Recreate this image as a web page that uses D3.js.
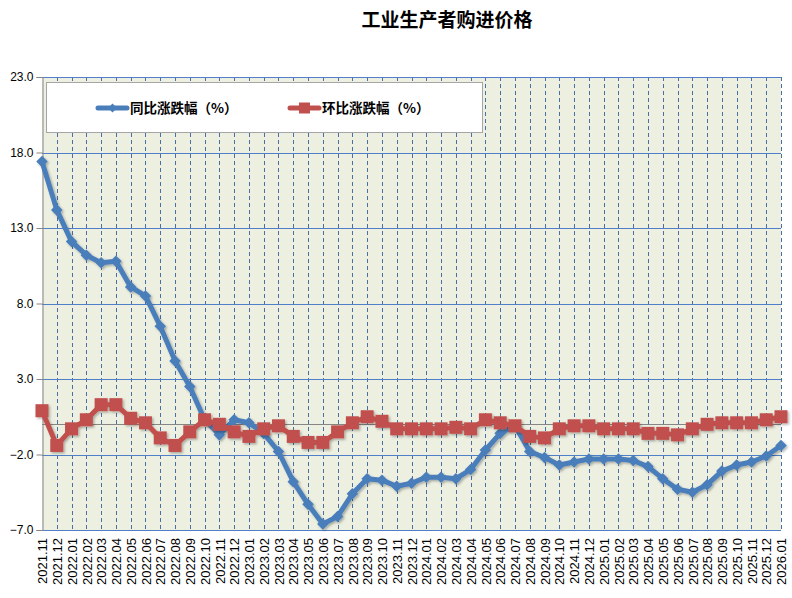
<!DOCTYPE html>
<html>
<head>
<meta charset="UTF-8">
<title>工业生产者购进价格</title>
<style>
  body { margin: 0; background: #fff; }
  svg { display: block; }
  .tick text { font-family: "Liberation Sans", Arial, sans-serif; fill: #000; }
</style>
</head>
<body>
<div id="chart"></div>
<script src="https://cdn.jsdelivr.net/npm/d3@7"></script>
<script>
// 月份
const months = [
  "2021.11","2021.12",
  "2022.01","2022.02","2022.03","2022.04","2022.05","2022.06","2022.07","2022.08","2022.09","2022.10","2022.11","2022.12",
  "2023.01","2023.02","2023.03","2023.04","2023.05","2023.06","2023.07","2023.08","2023.09","2023.10","2023.11","2023.12",
  "2024.01","2024.02","2024.03","2024.04","2024.05","2024.06","2024.07","2024.08","2024.09","2024.10","2024.11","2024.12",
  "2025.01","2025.02","2025.03","2025.04","2025.05","2025.06","2025.07","2025.08","2025.09","2025.10","2025.11","2025.12",
  "2026.01"
];
// 同比涨跌幅（%）
const yoy = [
  17.4, 14.2,
  12.1, 11.2, 10.7, 10.8, 9.1, 8.5, 6.5, 4.2, 2.5, 0.3, -0.7, 0.3,
  0.1, -0.6, -1.8, -3.8, -5.3, -6.6, -6.1, -4.6, -3.6, -3.7, -4.1, -3.9,
  -3.5, -3.5, -3.6, -3.0, -1.7, -0.6, -0.1, -1.8, -2.2, -2.7, -2.5, -2.3,
  -2.3, -2.3, -2.4, -2.8, -3.6, -4.3, -4.5, -4.0, -3.1, -2.7, -2.5, -2.1,
  -1.4
];
// 环比涨跌幅（%）
const mom = [
  0.9, -1.4,
  -0.3, 0.3, 1.3, 1.3, 0.4, 0.1, -0.9, -1.4, -0.5, 0.3, 0.0, -0.5,
  -0.8, -0.3, -0.1, -0.8, -1.2, -1.2, -0.5, 0.1, 0.5, 0.2, -0.3, -0.3,
  -0.3, -0.3, -0.2, -0.3, 0.3, 0.1, -0.1, -0.8, -0.9, -0.3, -0.1, -0.1,
  -0.3, -0.3, -0.3, -0.6, -0.6, -0.7, -0.3, 0.0, 0.1, 0.1, 0.1, 0.3,
  0.5
];
const yTicks = [-7, -2, 3, 8, 13, 18, 23];
const seriesNames = ["同比涨跌幅（%）", "环比涨跌幅（%）"];

const width = 792, height = 598;
const plotL = 42, plotR = 781, plotT = 77, plotB = 530;

const svg = d3.select("#chart").append("svg")
  .attr("width", width)
  .attr("height", height);

// 阴影
const defs = svg.append("defs");
const f = defs.append("filter").attr("id", "shadow")
  .attr("x", "-10%").attr("y", "-10%").attr("width", "120%").attr("height", "120%");
f.append("feDropShadow")
  .attr("dx", 1.5).attr("dy", 1.5).attr("stdDeviation", 1.2)
  .attr("flood-color", "#000").attr("flood-opacity", 0.3);

const x = d3.scalePoint().domain(months).range([plotL, plotR]);
const y = d3.scaleLinear().domain([-7, 23]).range([plotB, plotT]);
const crisp = v => Math.round(v) + 0.5;

// 绘图区背景
svg.append("rect")
  .attr("x", plotL).attr("y", plotT)
  .attr("width", plotR - plotL).attr("height", plotB - plotT)
  .attr("fill", "#edf0e1");

// 竖向虚线
svg.append("g")
  .selectAll("line")
  .data(months.slice(1))
  .join("line")
  .attr("x1", d => crisp(x(d))).attr("x2", d => crisp(x(d)))
  .attr("y1", plotT).attr("y2", plotB)
  .attr("stroke", "#4a6fa5")
  .attr("stroke-width", 1)
  .attr("stroke-dasharray", "4,3");

// 横向网格
svg.append("g")
  .selectAll("line")
  .data(yTicks)
  .join("line")
  .attr("x1", plotL).attr("x2", plotR)
  .attr("y1", d => crisp(y(d))).attr("y2", d => crisp(y(d)))
  .attr("stroke", "#4f7fc8")
  .attr("stroke-width", 1);

// 0 轴线
svg.append("line")
  .attr("x1", plotL).attr("x2", plotR)
  .attr("y1", crisp(y(0))).attr("y2", crisp(y(0)))
  .attr("stroke", "#868686")
  .attr("stroke-width", 1);

// y 轴
const yAxis = svg.append("g")
  .attr("transform", "translate(" + (plotL + 0.5) + ",0)")
  .call(d3.axisLeft(y).tickValues(yTicks).tickFormat(d3.format(".1f")).tickSize(6).tickPadding(3));
yAxis.select(".domain").attr("stroke", "#868686");
yAxis.selectAll(".tick line").attr("stroke", "#868686");
yAxis.selectAll(".tick text").attr("font-size", 12);

// x 轴标签
const xAxis = svg.append("g")
  .attr("transform", "translate(0," + plotB + ")")
  .call(d3.axisBottom(x).tickSize(0).tickPadding(0));
xAxis.select(".domain").remove();
xAxis.selectAll(".tick text")
  .attr("font-size", 13)
  .attr("text-anchor", "end")
  .attr("transform", "rotate(-90)")
  .attr("x", -8)
  .attr("y", 0)
  .attr("dy", "0.36em");

// 折线
const line = d3.line()
  .x((d, i) => x(months[i]))
  .y(d => y(d));

const gYoy = svg.append("g").attr("filter", "url(#shadow)");
gYoy.append("path")
  .datum(yoy)
  .attr("d", line)
  .attr("fill", "none")
  .attr("stroke", "#4a7ebb")
  .attr("stroke-width", 5)
  .attr("stroke-linejoin", "round");
gYoy.selectAll("path.pt")
  .data(yoy)
  .join("path")
  .attr("class", "pt")
  .attr("d", d3.symbol(d3.symbolDiamond2, 85))
  .attr("transform", (d, i) => "translate(" + x(months[i]) + "," + y(d) + ")")
  .attr("fill", "#4a7ebb");

const gMom = svg.append("g").attr("filter", "url(#shadow)");
gMom.append("path")
  .datum(mom)
  .attr("d", line)
  .attr("fill", "none")
  .attr("stroke", "#c0504d")
  .attr("stroke-width", 5)
  .attr("stroke-linejoin", "round");
gMom.selectAll("rect")
  .data(mom)
  .join("rect")
  .attr("x", (d, i) => x(months[i]) - 6.5)
  .attr("y", d => y(d) - 6.5)
  .attr("width", 13).attr("height", 13)
  .attr("fill", "#c0504d");

// 图例
const legend = svg.append("g");
legend.append("rect")
  .attr("x", 46.5).attr("y", 82.5)
  .attr("width", 436).attr("height", 50)
  .attr("fill", "#fff")
  .attr("stroke", "#a6a6a6");
const lg = [
  { name: seriesNames[0], color: "#4a7ebb", x: 98, shape: "diamond" },
  { name: seriesNames[1], color: "#c0504d", x: 290, shape: "square" }
];
lg.forEach(d => {
  legend.append("line")
    .attr("x1", d.x).attr("x2", d.x + 29)
    .attr("y1", 108).attr("y2", 108)
    .attr("stroke", d.color).attr("stroke-width", 5)
    .attr("stroke-linecap", "round");
  if (d.shape === "diamond") {
    legend.append("path")
      .attr("d", d3.symbol(d3.symbolDiamond2, 50))
      .attr("transform", "translate(" + (d.x + 14.5) + ",108)")
      .attr("fill", d.color);
  } else {
    legend.append("rect")
      .attr("x", d.x + 9).attr("y", 102.5)
      .attr("width", 11).attr("height", 11)
      .attr("fill", d.color);
  }
  legend.append("text")
    .attr("x", d.x + 32).attr("y", 108)
    .attr("dy", "0.36em")
    .attr("font-family", "'Noto Sans CJK SC', sans-serif")
    .attr("font-size", 13.5)
    .attr("font-weight", "bold")
    .text(d.name);
});

// 标题
svg.append("text")
  .attr("x", 447).attr("y", 20)
  .attr("dy", "0.36em")
  .attr("text-anchor", "middle")
  .attr("font-family", "'Noto Sans CJK SC', sans-serif")
  .attr("font-size", 19)
  .attr("font-weight", "bold")
  .text("工业生产者购进价格");
</script>
</body>
</html>
